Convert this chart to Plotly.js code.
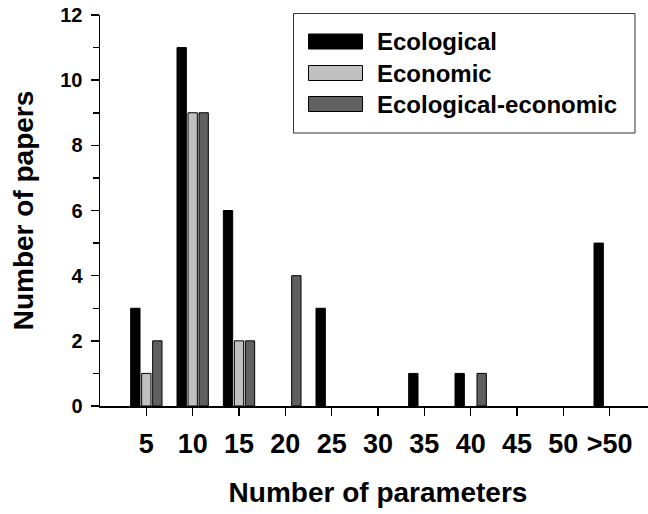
<!DOCTYPE html>
<html>
<head>
<meta charset="utf-8">
<script src="https://cdn.plot.ly/plotly-3.0.1.min.js"></script>
<style>
html,body{margin:0;padding:0;overflow:hidden;background:#fff;}
#chart{width:656px;height:514px;}
</style>
</head>
<body>
<div id="chart"></div>
<script>
// ---- data ----
var categories = ['5','10','15','20','25','30','35','40','45','50','>50'];
var seriesNames = ['Ecological','Economic','Ecological-economic'];
var ecological = [3, 11, 6, 0, 3, 0, 1, 1, 0, 0, 5];
var economic   = [1, 9, 2, 0, 0, 0, 0, 0, 0, 0, 0];
var ecoEcon    = [2, 9, 2, 4, 0, 0, 0, 1, 0, 0, 0];
var yTickVals  = [0, 2, 4, 6, 8, 10, 12];

// ---- styles ----
var colors = ['#000000', '#c0c0c0', '#606060'];
var FONT = 'Liberation Sans, Arial, Helvetica, sans-serif';

var W = 656, H = 514;
var mL = 100, mR = 0, mT = 15, mB = 108;
var pw = W - mL - mR, ph = H - mT - mB;
function px(x){ return (x - mL) / pw; }
function py(y){ return (H - mB - y) / ph; }

var values = [ecological, economic, ecoEcon];
var traces = values.map(function(v, i){
  return {
    type: 'bar',
    x: categories,
    y: v,
    name: seriesNames[i],
    marker: {color: colors[i],
             line: {color: '#000', width: v.map(function(d){ return d > 0 ? 1 : 0; })}},
    showlegend: false,
    hoverinfo: 'x+y+name'
  };
});

// manual legend (box, swatches, labels)
var shapes = [{
  type: 'rect', xref: 'paper', yref: 'paper',
  x0: px(293.5), x1: px(635), y0: py(133), y1: py(13.5),
  line: {color: '#333', width: 1}, fillcolor: '#fff', layer: 'above'
}];
var annotations = [];
var rowTop = [34, 65.5, 96.5];
for (var i = 0; i < seriesNames.length; i++) {
  shapes.push({
    type: 'rect', xref: 'paper', yref: 'paper',
    x0: px(308.5), x1: px(362.5), y0: py(rowTop[i] + 15), y1: py(rowTop[i]),
    line: {color: '#000', width: 1}, fillcolor: colors[i], layer: 'above'
  });
  annotations.push({
    xref: 'paper', yref: 'paper', x: px(375), y: py(rowTop[i] + 7.5),
    xanchor: 'left', yanchor: 'middle', showarrow: false,
    text: seriesNames[i],
    font: {family: FONT, size: 24, color: '#000', weight: 'bold'}
  });
}

var layout = {
  width: W, height: H,
  margin: {l: mL, r: mR, t: mT, b: mB, pad: 0},
  paper_bgcolor: '#fff', plot_bgcolor: '#fff',
  barmode: 'group',
  bargap: 0.288,
  bargroupgap: 0.15,
  showlegend: false,
  font: {family: FONT, color: '#000'},
  xaxis: {
    type: 'category',
    categoryorder: 'array', categoryarray: categories,
    range: [-1, 11],
    showline: true, linecolor: '#000', linewidth: 1.5,
    showgrid: false, zeroline: false,
    ticks: 'outside', ticklen: 8, tickwidth: 1.5, tickcolor: '#000',
    tickfont: {family: FONT, size: 27, color: '#000', weight: 'bold'},
    ticklabelstandoff: 5,
    title: {text: 'Number of parameters', standoff: 24,
            font: {family: FONT, size: 28, color: '#000', weight: 'bold'}},
    fixedrange: true, automargin: false
  },
  yaxis: {
    range: [0, 12],
    tickvals: yTickVals,
    showline: true, linecolor: '#000', linewidth: 1.5,
    showgrid: false, zeroline: false,
    ticks: 'outside', ticklen: 8, tickwidth: 1.5, tickcolor: '#000',
    minor: {dtick: 1, ticks: 'outside', ticklen: 6, tickwidth: 1.5, tickcolor: '#000', showgrid: false},
    tickfont: {family: FONT, size: 20, color: '#000', weight: 'bold'},
    ticklabelstandoff: 4,
    title: {text: 'Number of papers', standoff: 18,
            font: {family: FONT, size: 28, color: '#000', weight: 'bold'}},
    fixedrange: true, automargin: false
  },
  shapes: shapes,
  annotations: annotations
};

Plotly.newPlot('chart', traces, layout, {displayModeBar: false, staticPlot: true});
</script>
</body>
</html>
